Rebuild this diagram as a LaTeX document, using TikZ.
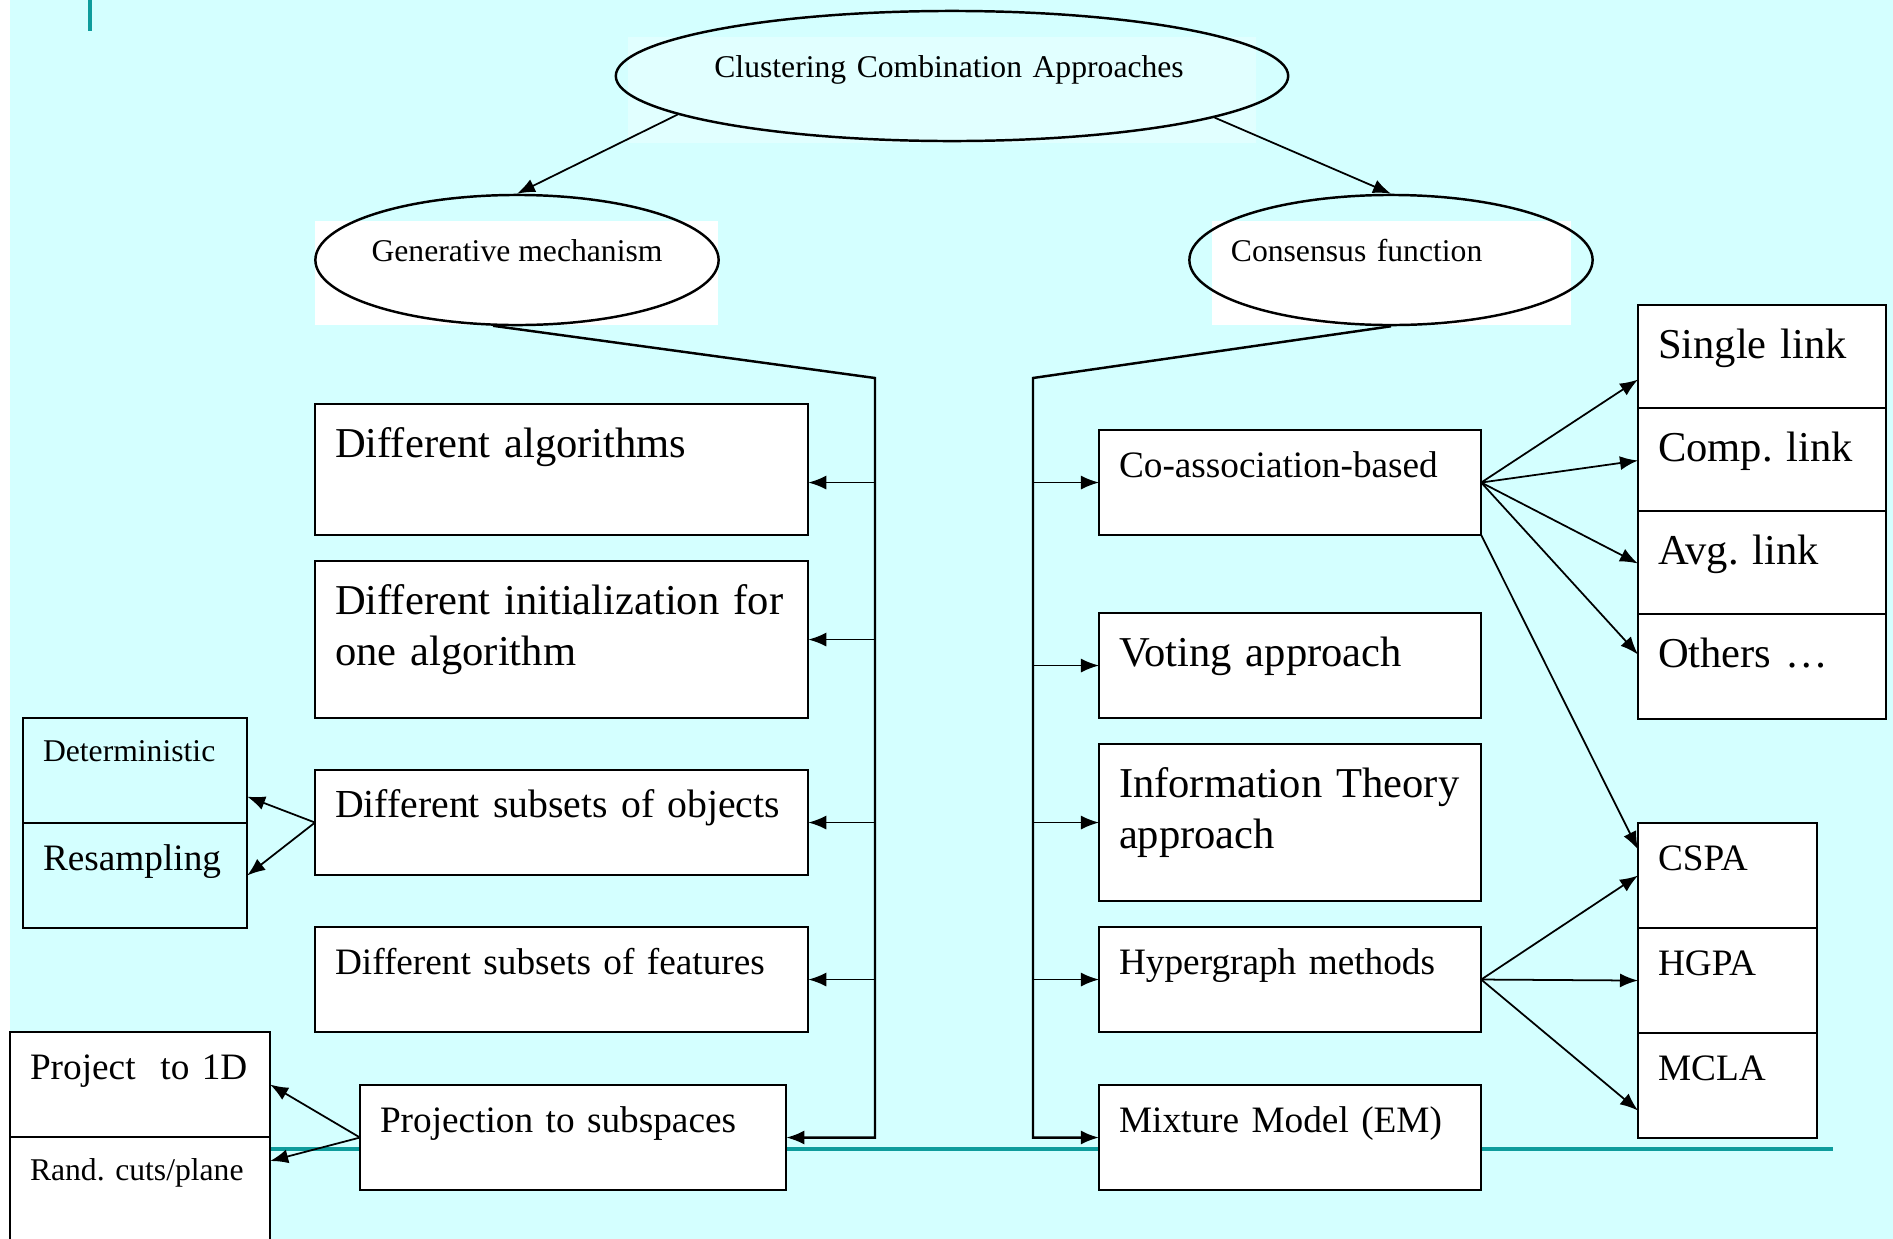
\documentclass[tikz,border=0pt]{standalone}
\usepackage{fontspec}
\setmainfont{Liberation Serif}
\frenchspacing
\usetikzlibrary{shapes.geometric, arrows.meta, positioning}
\definecolor{bgcyan}{HTML}{D4FFFF}
\definecolor{rulecyan}{HTML}{0E9C9C}
\newcommand{\fsm}{\fontsize{9}{10.8}\selectfont}
\newcommand{\fmd}{\fontsize{10.6}{12.7}\selectfont}
\newcommand{\flg}{\fontsize{12.1}{14.5}\selectfont}

\begin{document}
\begin{tikzpicture}[x=0.01cm, y=-0.01cm, >={Latex[length=1.8mm, width=1.4mm]},
    oval/.style={ellipse, draw, line width=0.7pt, minimum height=1.3cm,
      inner xsep=-0.2cm, inner ysep=0pt, text depth=0.19cm, font=\fsm},
    cbox/.style={draw, line width=0.6pt, fill=white, anchor=north west,
      inner xsep=0.2cm, inner ysep=0pt, outer sep=0pt, align=left,
      text height=0.47cm, text depth=0.58cm},
    tall/.style={text depth=0.84cm},
    taller/.style={text depth=1.10cm},
    sm/.style={font=\fsm, text height=0.43cm, text depth=0.62cm},
    md/.style={font=\fmd},
    lg/.style={font=\flg, text height=0.53cm, text depth=0.52cm},
    spine/.style={line width=0.7pt},
    wire/.style={line width=0.5pt},
  ]
  % backdrop of the slide
  \useasboundingbox (0,0) rectangle (1893,1239);
  \fill[bgcyan] (10,0) rectangle (1893,1239);
  \fill[rulecyan] (88,0) rectangle (92,31);
  \draw[rulecyan, line width=0.04cm] (270,1149) -- (1833,1149);
  \fill[bgcyan!70!white] (628,37) rectangle (1256,143);
  \fill[white] (315,221) rectangle (718,325);
  \fill[white] (1212,221) rectangle (1571,325);

  % ellipses
  \node[oval, minimum width=6.72cm, text width=4.75cm, align=left] (top) at (952,76) {Clustering Combination Approaches};
  \node[oval, minimum width=4.03cm] (gen) at (517,260) {Generative mechanism};
  \node[oval, minimum width=4.03cm, text width=3.2cm, align=left] (cons) at (1391,260) {Consensus function};

  % generative side
  \node[cbox, lg, text width=4.53cm, text depth=0.78cm] (galg) at (315,404) {Different algorithms};
  \node[cbox, lg, text width=4.53cm, text depth=1.04cm] (ginit) at (315,561) {Different initialization for\\one algorithm};
  \node[cbox, text width=4.53cm, font=\fontsize{11.3}{13.6}\selectfont] (gobj) at (315,770) {Different subsets of objects};
  \node[cbox, md, text width=4.53cm] (gfeat) at (315,927) {Different subsets of features};
  \node[cbox, md, text width=3.86cm] (gproj) at (360,1085) {Projection to subspaces};
  \node[cbox, sm, text width=1.84cm, fill=none] (det) at (23,718) {Deterministic};
  \node[cbox, md, text width=1.84cm, fill=none] (resamp) at (23,823) {Resampling};
  \node[cbox, md, text width=2.20cm] (proj1d) at (10,1032) {Project~~to 1D};
  \node[cbox, sm, text width=2.20cm, text depth=0.79cm] (rand) at (10,1137) {Rand. cuts/plane};

  % consensus side
  \node[cbox, md, text width=3.42cm] (cassoc) at (1099,430) {Co-association-based};
  \node[cbox, lg, text width=3.42cm] (vote) at (1099,613) {Voting approach};
  \node[cbox, lg, text width=3.42cm, text depth=1.04cm] (info) at (1099,744) {Information Theory\\approach};
  \node[cbox, md, text width=3.42cm] (hyper) at (1099,927) {Hypergraph methods};
  \node[cbox, md, text width=3.42cm] (mix) at (1099,1085) {Mixture Model (EM)};
  \node[cbox, lg, text width=2.08cm] (single) at (1638,305) {Single link};
  \node[cbox, lg, text width=2.08cm] (comp) at (1638,408) {Comp. link};
  \node[cbox, lg, text width=2.08cm] (avg) at (1638,511) {Avg. link};
  \node[cbox, lg, text width=2.08cm] (others) at (1638,614) {Others …};
  \node[cbox, md, text width=1.39cm] (cspa) at (1638,823) {CSPA};
  \node[cbox, md, text width=1.39cm] (hgpa) at (1638,928) {HGPA};
  \node[cbox, md, text width=1.39cm] (mcla) at (1638,1033) {MCLA};

  \coordinate (gbend) at (875,378);
  \coordinate (cbend) at (1033,378);

  % connectors
  \draw[->, wire] (top.188) -- (gen.north);
  \draw[->, wire] (top.351) -- (cons.north);
  \draw[->, spine] (gen.250) -- (gbend) -- (gbend |- gproj.east) -- (gproj.east);
  \draw[->, wire] ([yshift=-0.13cm]gbend |- galg.east) -- ([yshift=-0.13cm]galg.east);
  \draw[->, wire] (gbend |- ginit.east) -- (ginit.east);
  \draw[->, wire] (gbend |- gobj.east) -- (gobj.east);
  \draw[->, wire] (gbend |- gfeat.east) -- (gfeat.east);
  \draw[->, spine] (cons.south) -- (cbend) -- (cbend |- mix.west) -- (mix.west);
  \draw[->, wire] (cbend |- cassoc.west) -- (cassoc.west);
  \draw[->, wire] (cbend |- vote.west) -- (vote.west);
  \draw[->, wire] (cbend |- info.west) -- (info.west);
  \draw[->, wire] (cbend |- hyper.west) -- (hyper.west);

  \draw[->, wire] (gobj.west) -- ([yshift=-0.26cm]det.east);
  \draw[->, wire] (gobj.west) -- (resamp.east);
  \draw[->, wire] (gproj.west) -- (proj1d.east);
  \draw[->, wire] (gproj.west) -- ([yshift=-0.24cm]rand.north east);

  \draw[->, wire] (cassoc.east) -- ([yshift=-0.22cm]single.west);
  \draw[->, wire] (cassoc.east) -- (comp.west);
  \draw[->, wire] (cassoc.east) -- (avg.west);
  \draw[->, wire] (cassoc.east) -- ([yshift=0.12cm]others.west);
  \draw[->, wire] (cassoc.south east) -- ([yshift=0.26cm]cspa.west);
  \draw[->, wire] (hyper.east) -- (cspa.west);
  \draw[->, wire] (hyper.east) -- (hgpa.west);
  \draw[->, wire] (hyper.east) -- ([yshift=-0.25cm]mcla.west);
\end{tikzpicture}
\end{document}
